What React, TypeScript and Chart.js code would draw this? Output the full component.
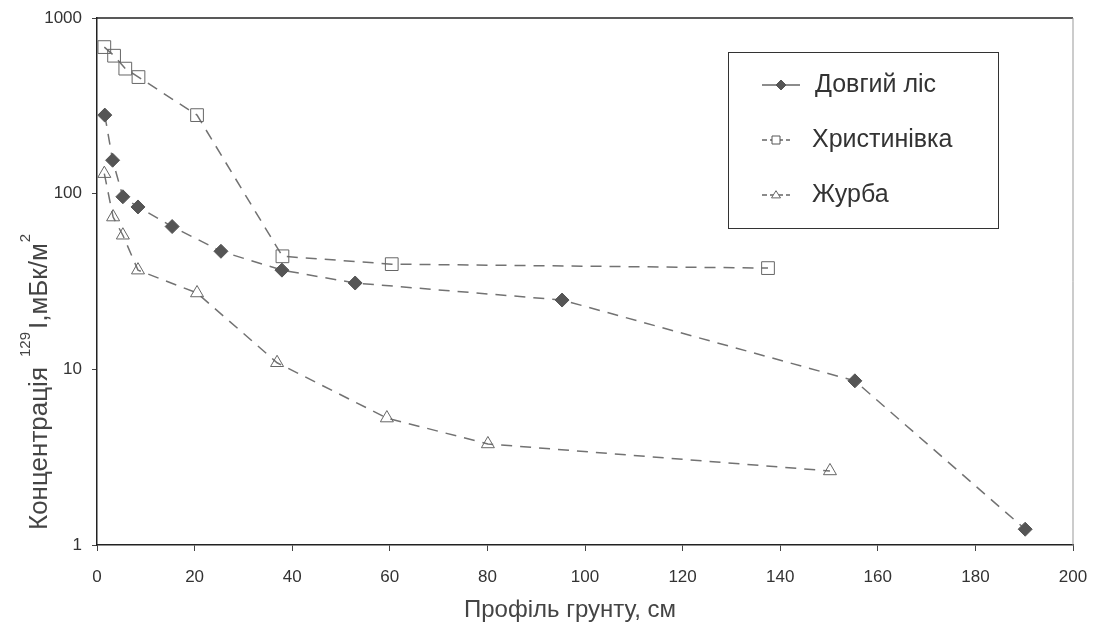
import React, { useEffect, useRef } from "react";
import { Chart, registerables } from "chart.js";

Chart.register(...registerables);

// ---- data ----
const seriesNames = ["Довгий ліс", "Христинівка", "Журба"];

const dovhyiLisDepth = [1.6, 3.2, 5.3, 8.4, 15.4, 25.4, 37.9, 52.9, 95.3, 155.3, 190.2];
const dovhyiLisConc = [280, 155, 96, 84, 65, 47, 36.7, 31, 24.8, 8.6, 1.23];

const khrystynivkaDepth = [1.5, 3.5, 5.8, 8.5, 20.5, 38, 60.4, 137.5];
const khrystynivkaConc = [683, 610, 515, 461, 280, 44, 39.7, 37.7];

const zhurbaDepth = [1.5, 3.3, 5.3, 8.4, 20.5, 36.9, 59.4, 80.1, 150.2];
const zhurbaConc = [130, 73.6, 58, 36.7, 27.2, 10.9, 5.28, 3.76, 2.64];

const xTickValues = [0, 20, 40, 60, 80, 100, 120, 140, 160, 180, 200];
const yTickValues = [1, 10, 100, 1000];

const xTitle = "Профіль грунту, см";
const yTitleMain = "Концентрація";
const yTitleSup1 = "129";
const yTitleUnit = "I,мБк/м";
const yTitleSup2 = "2";

const FONT = "'Liberation Sans', Arial, sans-serif";

function toPoints(xs: number[], ys: number[]) {
  return xs.map((x, i) => ({ x, y: ys[i] }));
}

function drawMarker(ctx: CanvasRenderingContext2D, style: string, x: number, y: number, r: number, fill: string, stroke: string) {
  ctx.save();
  ctx.beginPath();
  if (style === "rectRot") {
    ctx.moveTo(x, y - r);
    ctx.lineTo(x + r, y);
    ctx.lineTo(x, y + r);
    ctx.lineTo(x - r, y);
    ctx.closePath();
  } else if (style === "rect") {
    ctx.rect(x - r, y - r, 2 * r, 2 * r);
  } else {
    const h = r * 1.6;
    ctx.moveTo(x, y - h * 0.6);
    ctx.lineTo(x + r, y + h * 0.4);
    ctx.lineTo(x - r, y + h * 0.4);
    ctx.closePath();
  }
  ctx.fillStyle = fill;
  ctx.fill();
  ctx.strokeStyle = stroke;
  ctx.lineWidth = 1;
  ctx.stroke();
  ctx.restore();
}

const decorPlugin = {
  id: "decor",
  afterDraw(chart: any) {
    const ctx: CanvasRenderingContext2D = chart.ctx;
    const a = chart.chartArea;
    ctx.save();
    // top frame line
    ctx.strokeStyle = "#222";
    ctx.lineWidth = 1.5;
    ctx.beginPath();
    ctx.moveTo(a.left, a.top);
    ctx.lineTo(a.right, a.top);
    ctx.stroke();
    // right frame line
    ctx.strokeStyle = "#999";
    ctx.lineWidth = 1;
    ctx.beginPath();
    ctx.moveTo(a.right, a.top);
    ctx.lineTo(a.right, a.bottom);
    ctx.stroke();

    // legend box
    const lx = 728, ly = 52, lw = 270, lh = 176;
    ctx.fillStyle = "#fff";
    ctx.fillRect(lx, ly, lw, lh);
    ctx.strokeStyle = "#333";
    ctx.lineWidth = 1;
    ctx.strokeRect(lx + 0.5, ly + 0.5, lw, lh);
    const rows = [85, 140, 195];
    const styles = ["rectRot", "rect", "triangle"];
    const fills = ["#555", "#fff", "#fff"];
    const strokes = ["#555", "#555", "#666"];
    const sizes = [5, 4, 4.5];
    const lineEnds = [800, 790, 790];
    const textX = [815, 812, 812];
    rows.forEach((ry, i) => {
      ctx.strokeStyle = "#666";
      ctx.lineWidth = 1.5;
      ctx.setLineDash(i === 0 ? [] : [5, 3]);
      ctx.beginPath();
      ctx.moveTo(762, ry);
      ctx.lineTo(lineEnds[i], ry);
      ctx.stroke();
      ctx.setLineDash([]);
      drawMarker(ctx, styles[i], (762 + lineEnds[i]) / 2, ry, sizes[i], fills[i], strokes[i]);
      ctx.fillStyle = "#333";
      ctx.font = `25px ${FONT}`;
      ctx.textBaseline = "middle";
      ctx.textAlign = "left";
      ctx.fillText(seriesNames[i], textX[i], ry);
    });

    // x title
    ctx.fillStyle = "#444";
    ctx.font = `24px ${FONT}`;
    ctx.textAlign = "center";
    ctx.textBaseline = "alphabetic";
    ctx.fillText(xTitle, 570, 617);

    // y title (rotated, with superscripts)
    ctx.translate(47, 530);
    ctx.rotate(-Math.PI / 2);
    ctx.textAlign = "left";
    ctx.textBaseline = "alphabetic";
    let cx = 0;
    ctx.font = `26px ${FONT}`;
    ctx.fillText(yTitleMain, cx, 0);
    cx += ctx.measureText(yTitleMain).width + 10;
    ctx.font = `15px ${FONT}`;
    ctx.fillText(yTitleSup1, cx, -17);
    cx += ctx.measureText(yTitleSup1).width + 3;
    ctx.font = `26px ${FONT}`;
    ctx.fillText(yTitleUnit, cx, 0);
    cx += ctx.measureText(yTitleUnit).width + 1;
    ctx.font = `15px ${FONT}`;
    ctx.fillText(yTitleSup2, cx, -17);
    ctx.restore();
  },
};

export default function App() {
  const canvasRef = useRef<HTMLCanvasElement | null>(null);

  useEffect(() => {
    if (!canvasRef.current) return;
    const lineCommon = {
      showLine: true,
      borderColor: "#727272",
      borderWidth: 1.5,
      borderDash: [11, 8],
      tension: 0,
    };
    const chart = new Chart(canvasRef.current, {
      type: "line",
      data: {
        datasets: [
          {
            ...lineCommon,
            label: seriesNames[0],
            data: toPoints(dovhyiLisDepth, dovhyiLisConc),
            pointStyle: "rectRot",
            pointRadius: 7,
            pointBackgroundColor: "#555",
            pointBorderColor: "#555",
            pointBorderWidth: 1,
          },
          {
            ...lineCommon,
            label: seriesNames[1],
            data: toPoints(khrystynivkaDepth, khrystynivkaConc),
            pointStyle: "rect",
            pointRadius: 9,
            pointBackgroundColor: "rgba(255,255,255,0)",
            pointBorderColor: "#666",
            pointBorderWidth: 1,
          },
          {
            ...lineCommon,
            label: seriesNames[2],
            data: toPoints(zhurbaDepth, zhurbaConc),
            pointStyle: "triangle",
            pointRadius: 7.5,
            pointBackgroundColor: "rgba(255,255,255,0)",
            pointBorderColor: "#666",
            pointBorderWidth: 1,
          },
        ],
      },
      options: {
        responsive: false,
        animation: false,
        devicePixelRatio: 1,
        layout: { padding: { top: 18, right: 23, left: 0, bottom: 0 } },
        plugins: {
          legend: { display: false },
          tooltip: { enabled: false },
        },
        scales: {
          x: {
            type: "linear",
            min: 0,
            max: 200,
            afterBuildTicks: (scale: any) => {
              scale.ticks = xTickValues.map((v) => ({ value: v }));
            },
            afterFit: (scale: any) => {
              scale.height = 81;
              scale.paddingLeft = 0;
              scale.paddingRight = 0;
            },
            ticks: {
              color: "#333",
              font: { family: FONT, size: 17 },
              padding: 16,
              maxRotation: 0,
            },
            grid: {
              drawOnChartArea: false,
              drawTicks: true,
              tickLength: 6,
              color: "#444",
            },
            border: { color: "#222", width: 1.5 },
          },
          y: {
            type: "logarithmic",
            min: 1,
            max: 1000,
            afterBuildTicks: (scale: any) => {
              scale.ticks = yTickValues.map((v) => ({ value: v }));
            },
            afterFit: (scale: any) => {
              scale.width = 97;
              scale.paddingTop = 0;
              scale.paddingBottom = 0;
            },
            ticks: {
              color: "#333",
              font: { family: FONT, size: 17 },
              padding: 10,
              callback: (v: any) => String(v),
            },
            grid: {
              drawOnChartArea: false,
              drawTicks: true,
              tickLength: 5,
              color: "#444",
            },
            border: { color: "#222", width: 1.5 },
          },
        },
      },
      plugins: [decorPlugin],
    } as any);
    return () => chart.destroy();
  }, []);

  return (
    <div style={{ position: "absolute", left: 0, top: 0, width: 1096, height: 626, background: "#fff" }}>
      <canvas ref={canvasRef} width={1096} height={626} style={{ display: "block" }} />
    </div>
  );
}
